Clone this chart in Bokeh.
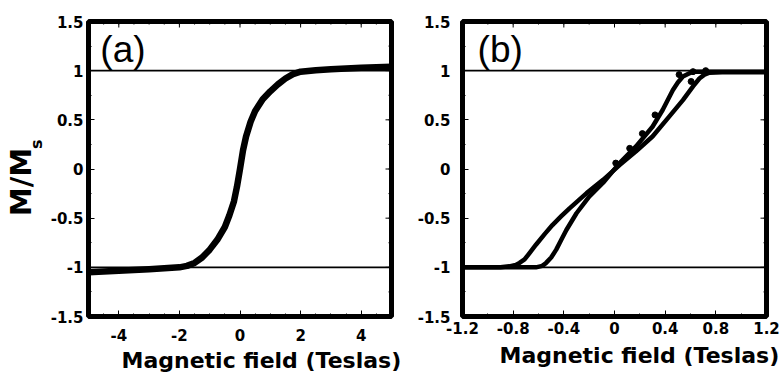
import math
from bokeh.plotting import figure
from bokeh.layouts import row
from bokeh.models import FixedTicker, Span, Label, Range1d, Title
from bokeh.embed import file_html
from bokeh.resources import INLINE

# ---------------- data ----------------
# panel (a)
a_field = [-5, -4, -3, -2.5, -2, -1.75, -1.5, -1.25, -1.0, -0.75, -0.5, -0.35, -0.2, -0.1,
           0, 0.1, 0.2, 0.35, 0.5, 0.75, 1.0, 1.25, 1.5, 1.75, 2.0, 2.5, 3, 4, 5]
a_mag = [-1.05, -1.035, -1.02, -1.01, -1.0, -0.985, -0.955, -0.90, -0.82, -0.72, -0.59, -0.47,
         -0.33, -0.18, 0.0, 0.19, 0.33, 0.48, 0.59, 0.71, 0.79, 0.86, 0.92, 0.965, 0.99,
         1.005, 1.015, 1.03, 1.04]

# panel (b) outer branch
b1_field = [-1.2, -0.9, -0.83, -0.78, -0.75, -0.71, -0.68, -0.62, -0.55, -0.49, -0.42, -0.355,
            -0.22, -0.09, 0.04, 0.17, 0.30, 0.43, 0.54, 0.62, 0.67, 0.71, 0.75, 0.85, 1.2]
b1_mag = [-1.0, -1.0, -0.99, -0.975, -0.955, -0.92, -0.87, -0.77, -0.66, -0.57, -0.48, -0.40,
          -0.245, -0.11, 0.04, 0.18, 0.33, 0.53, 0.70, 0.84, 0.92, 0.96, 0.98, 0.985, 0.985]
# panel (b) inner branch
b2_field = [-1.2, -0.62, -0.57, -0.54, -0.50, -0.46, -0.42, -0.38, -0.30, -0.20, -0.09, 0.04,
            0.17, 0.30, 0.38, 0.46, 0.50, 0.54, 0.60, 0.645, 0.8, 1.2]
b2_mag = [-1.0, -1.0, -0.985, -0.955, -0.90, -0.82, -0.72, -0.62, -0.45, -0.28, -0.14, 0.06,
          0.23, 0.43, 0.60, 0.80, 0.88, 0.94, 0.98, 0.99, 0.99, 0.99]
# scattered dots on panel (b)
b_dot_field = [0.51, 0.62, 0.72, 0.605, 0.32, 0.22, 0.12, 0.01]
b_dot_mag = [0.96, 0.99, 1.0, 0.89, 0.55, 0.36, 0.21, 0.06]

ref_levels = [1, -1]

a_xticks = [-4, -2, 0, 2, 4]
a_xlabels = ["-4", "-2", "0", "2", "4"]
b_xticks = [-1.2, -0.8, -0.4, 0, 0.4, 0.8, 1.2]
b_xlabels = ["-1.2", "-0.8", "-0.4", "0", "0.4", "0.8", "1.2"]
yticks = [-1.5, -1, -0.5, 0, 0.5, 1, 1.5]
ylabels = ["-1.5", "-1", "-0.5", "0", "0.5", "1", "1.5"]
a_xminor = [-5 + 0.5 * i for i in range(21)]
b_xminor = [round(-1.2 + 0.2 * i, 2) for i in range(13)]
yminor = [-1.5 + 0.25 * i for i in range(13)]

a_xrange = (-5, 5)
b_xrange = (-1.2, 1.2)
y_range = (-1.5, 1.5)

xlabel_text = "Magnetic field (Teslas)"
ylabel_main = "M/M"
ylabel_sub = "s"
FONT = "DejaVu Sans"
H = 375


def make_fig(width, left, right, xr, xticks, xlabels, xminor, xstand, ystand,
             title_offset, title_standoff):
    p = figure(width=width, height=H, output_backend="svg", toolbar_location=None,
               x_range=Range1d(*xr), y_range=Range1d(*y_range),
               min_border_left=left, min_border_right=right, min_border_top=21,
               min_border_bottom=57)
    p.background_fill_color = "white"
    p.border_fill_color = "white"
    p.outline_line_color = "black"
    p.outline_line_width = 5
    p.grid.visible = False
    xa = p.xaxis[0]
    ya = p.yaxis[0]
    xa.ticker = FixedTicker(ticks=xticks, minor_ticks=xminor)
    xa.major_label_overrides = {t: l for t, l in zip(xticks, xlabels)}
    xa.major_label_standoff = xstand
    ya.ticker = FixedTicker(ticks=yticks, minor_ticks=yminor)
    ya.major_label_overrides = {t: l for t, l in zip(yticks, ylabels)}
    ya.major_label_standoff = ystand
    for ax in (xa, ya):
        ax.axis_line_color = None
        ax.major_tick_in = 6
        ax.major_tick_out = 0
        ax.minor_tick_in = 3
        ax.minor_tick_out = 0
        ax.major_tick_line_color = "black"
        ax.minor_tick_line_color = "black"
        ax.major_label_text_font = FONT
        ax.major_label_text_font_style = "bold"
        ax.major_label_text_font_size = "15px"
        ax.major_label_text_color = "black"
    # ticks on the top and right edges of the frame (half of each dash is clipped)
    p.scatter(xticks, [y_range[1]] * len(xticks), marker="dash", angle=math.pi / 2,
              size=12, line_color="black", line_width=1)
    p.scatter(xminor, [y_range[1]] * len(xminor), marker="dash", angle=math.pi / 2,
              size=6, line_color="black", line_width=1)
    p.scatter([xr[1]] * len(yticks), yticks, marker="dash", size=12,
              line_color="black", line_width=1)
    p.scatter([xr[1]] * len(yminor), yminor, marker="dash", size=6,
              line_color="black", line_width=1)
    for lv in ref_levels:
        p.add_layout(Span(location=lv, dimension="width", line_color="black", line_width=1.6))
    p.add_layout(Title(text=xlabel_text, align="left", offset=title_offset,
                       standoff=title_standoff, text_font=FONT, text_font_style="bold",
                       text_font_size="22px", text_color="black"), "below")
    return p


# narrow strip carrying the vertical axis title
pl = figure(width=47, height=H, output_backend="svg", toolbar_location=None,
            x_range=Range1d(0, 47), y_range=Range1d(0, H),
            min_border_left=0, min_border_right=0, min_border_top=0, min_border_bottom=0)
pl.axis.visible = False
pl.grid.visible = False
pl.outline_line_color = None
pl.add_layout(Label(x=20.5, y=171, text=ylabel_main, angle=math.pi / 2, text_font=FONT,
                    text_font_style="bold", text_font_size="29px", text_align="center",
                    text_baseline="middle", text_color="black"))
pl.add_layout(Label(x=35.5, y=219, text=ylabel_sub, angle=math.pi / 2, text_font=FONT,
                    text_font_style="bold", text_font_size="16px", text_align="center",
                    text_baseline="middle", text_color="black"))

pa = make_fig(356, 39, 12, a_xrange, a_xticks, a_xlabels, a_xminor, 12, 5, 33, 5)
pa.line(a_field, a_mag, line_color="black", line_width=6.5, line_join="round")

pb = make_fig(378, 59, 15, b_xrange, b_xticks, b_xlabels, b_xminor, 5, 12, 37, 9)
pb.line(b1_field, b1_mag, line_color="black", line_width=4.5, line_join="round")
pb.line(b2_field, b2_mag, line_color="black", line_width=4.5, line_join="round")
pb.scatter(b_dot_field, b_dot_mag, size=6, color="black")

# panel tags
pa.add_layout(Label(x=-4.61, y=1.218, text="(a)", text_font="Liberation Sans",
                    text_font_size="37px", text_color="black", text_baseline="middle"))
pb.add_layout(Label(x=-1.081, y=1.218, text="(b)", text_font="Liberation Sans",
                    text_font_size="37px", text_color="black", text_baseline="middle"))

layout = row(pl, pa, pb)
open("out.html", "w").write(file_html(layout, INLINE))
